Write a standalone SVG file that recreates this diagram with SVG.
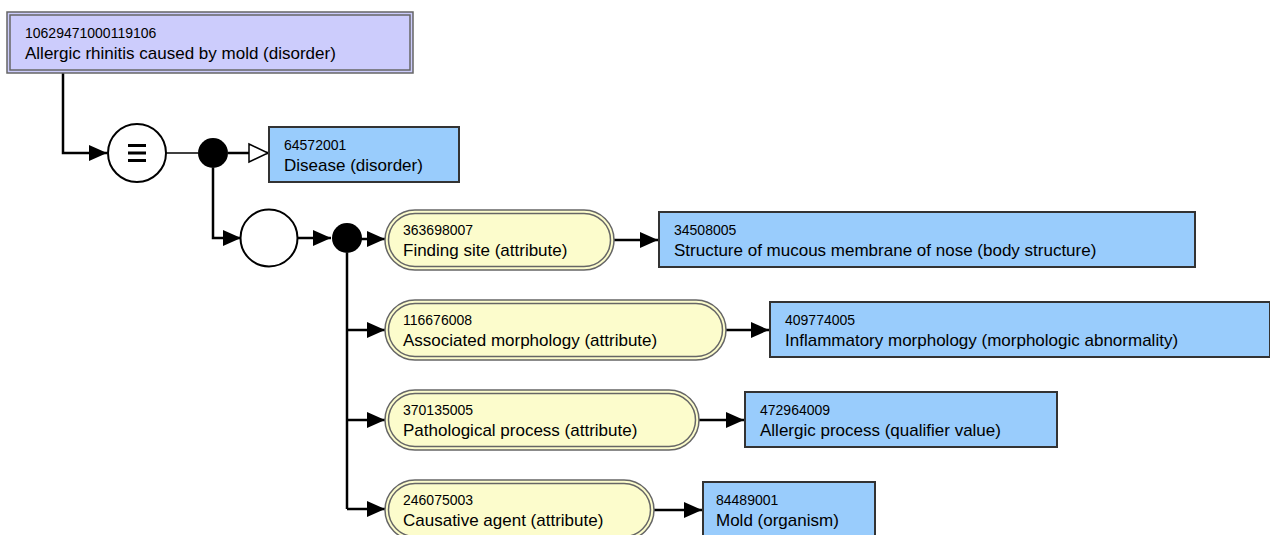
<svg xmlns="http://www.w3.org/2000/svg" width="1270" height="535" viewBox="0 0 1270 535">
<style>
  .num { font-family: "Liberation Sans", Arial, sans-serif; font-size: 14px; fill: #000; }
  .lbl { font-family: "Liberation Sans", Arial, sans-serif; font-size: 17px; fill: #000; }
  .defbox { fill: #ccccfc; stroke: #666; stroke-width: 1.5; }
  .defin { fill: none; stroke: #666; stroke-width: 1.5; }
  .concept { fill: #99ccfc; stroke: #333; stroke-width: 2; }
  .attr { fill: #fcfccc; stroke: #666; stroke-width: 1.5; }
  .attrin { fill: none; stroke: #666; stroke-width: 1.5; }
  .conn { fill: none; stroke: #000; stroke-width: 2.5; }
  .thin { fill: none; stroke: #000; stroke-width: 1.5; }
  .op { fill: #fff; stroke: #000; stroke-width: 2; }
  .dot { fill: #000; }
</style>
<defs>
  <marker id="arr" markerUnits="userSpaceOnUse" markerWidth="20" markerHeight="18" refX="19" refY="9" orient="auto">
    <path d="M1,1 L19,9 L1,17 z" fill="#000"/>
  </marker>
  <marker id="isa" markerUnits="userSpaceOnUse" markerWidth="24" markerHeight="22" refX="21" refY="11" orient="auto">
    <path d="M2,2 L21,11 L2,20 z" fill="#fff" stroke="#000" stroke-width="1.5"/>
  </marker>
</defs>

<g id="connectors">
  <path class="conn" d="M63,73 V153 H107" marker-end="url(#arr)"/>
  <path class="thin" d="M166,153 H198"/>
  <path class="conn" d="M228,153 H268" marker-end="url(#isa)"/>
  <path class="conn" d="M213,168 V238 H241" marker-end="url(#arr)"/>
  <path class="conn" d="M298,238 H331" marker-end="url(#arr)"/>
  <path class="conn" d="M361,239 H385" marker-end="url(#arr)"/>
  <path class="conn" d="M347,253 V509"/>
  <path class="conn" d="M347,330 H385" marker-end="url(#arr)"/>
  <path class="conn" d="M347,420 H385" marker-end="url(#arr)"/>
  <path class="conn" d="M347,509 H385" marker-end="url(#arr)"/>
  <path class="conn" d="M614,240 H658" marker-end="url(#arr)"/>
  <path class="conn" d="M726,330 H769" marker-end="url(#arr)"/>
  <path class="conn" d="M699,420 H744" marker-end="url(#arr)"/>
  <path class="conn" d="M654,510 H702" marker-end="url(#arr)"/>
</g>

<g id="focus">
  <rect class="defbox" x="7" y="12" width="406" height="61"/>
  <rect class="defin" x="10" y="15" width="400" height="55"/>
  <text class="num" x="25" y="38">10629471000119106</text>
  <text class="lbl" x="25" y="59">Allergic rhinitis caused by mold (disorder)</text>
</g>

<g id="equiv">
  <circle class="op" cx="137" cy="153" r="29"/>
  <path d="M128,145.5 H146 M128,153 H146 M128,160.5 H146" stroke="#000" stroke-width="3"/>
</g>
<g id="conj1"><circle class="dot" cx="213" cy="153" r="15"/></g>

<g id="disease">
  <rect class="concept" x="269" y="127" width="190" height="55"/>
  <text class="num" x="284" y="150">64572001</text>
  <text class="lbl" x="284" y="171">Disease (disorder)</text>
</g>

<g id="group"><circle class="op" cx="269" cy="238" r="28.5"/></g>
<g id="conj2"><circle class="dot" cx="347" cy="238" r="15"/></g>

<g id="attr1">
  <rect class="attr" x="385" y="210" width="229" height="60" rx="30"/>
  <rect class="attrin" x="388.5" y="213.5" width="222" height="53" rx="26.5"/>
  <text class="num" x="403" y="235">363698007</text>
  <text class="lbl" x="403" y="256">Finding site (attribute)</text>
</g>
<g id="val1">
  <rect class="concept" x="659" y="212" width="536" height="55"/>
  <text class="num" x="674" y="235">34508005</text>
  <text class="lbl" x="674" y="256">Structure of mucous membrane of nose (body structure)</text>
</g>

<g id="attr2">
  <rect class="attr" x="385" y="300" width="341" height="60" rx="30"/>
  <rect class="attrin" x="388.5" y="303.5" width="334" height="53" rx="26.5"/>
  <text class="num" x="403" y="325">116676008</text>
  <text class="lbl" x="403" y="346">Associated morphology (attribute)</text>
</g>
<g id="val2">
  <rect class="concept" x="770" y="302" width="500" height="55"/>
  <text class="num" x="785" y="325">409774005</text>
  <text class="lbl" x="785" y="346">Inflammatory morphology (morphologic abnormality)</text>
</g>

<g id="attr3">
  <rect class="attr" x="385" y="390" width="314" height="60" rx="30"/>
  <rect class="attrin" x="388.5" y="393.5" width="307" height="53" rx="26.5"/>
  <text class="num" x="403" y="415">370135005</text>
  <text class="lbl" x="403" y="436">Pathological process (attribute)</text>
</g>
<g id="val3">
  <rect class="concept" x="745" y="392" width="312" height="55"/>
  <text class="num" x="760" y="415">472964009</text>
  <text class="lbl" x="760" y="436">Allergic process (qualifier value)</text>
</g>

<g id="attr4">
  <rect class="attr" x="385" y="480" width="269" height="60" rx="30"/>
  <rect class="attrin" x="388.5" y="483.5" width="262" height="53" rx="26.5"/>
  <text class="num" x="403" y="505">246075003</text>
  <text class="lbl" x="403" y="526">Causative agent (attribute)</text>
</g>
<g id="val4">
  <rect class="concept" x="703" y="482" width="172" height="55"/>
  <text class="num" x="716" y="505">84489001</text>
  <text class="lbl" x="716" y="526">Mold (organism)</text>
</g>
</svg>
